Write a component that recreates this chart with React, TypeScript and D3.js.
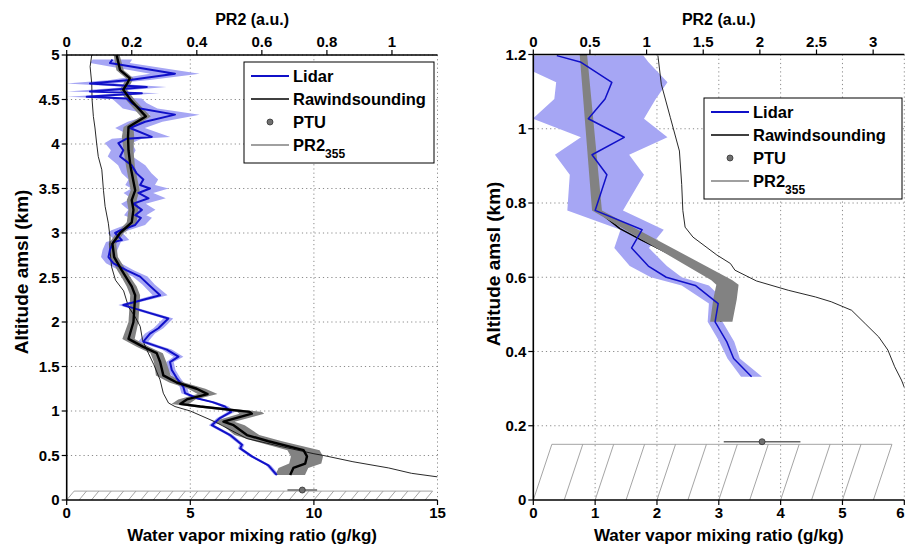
import React from 'react';
import * as d3 from 'd3';

const W = 905;
const H = 546;

// ---------------- LEFT PANEL DATA ----------------
const lidarAltL = [4.95, 4.91, 4.79, 4.72, 4.68, 4.64, 4.59, 4.57, 4.53, 4.51, 4.46, 4.40, 4.33, 4.25, 4.18, 4.08, 4.06, 4.01, 3.93, 3.86, 3.76, 3.67, 3.60, 3.54, 3.50, 3.45, 3.39, 3.33, 3.26, 3.20, 3.17, 3.09, 3.03, 3.00, 2.92, 2.90, 2.81, 2.73, 2.66, 2.58, 2.51, 2.42, 2.30, 2.25, 2.19, 2.15, 2.10, 2.04, 1.93, 1.87, 1.78, 1.74, 1.69, 1.61, 1.55, 1.46, 1.37, 1.27, 1.20, 1.14, 1.10, 1.05, 0.99, 0.92, 0.84, 0.73, 0.62, 0.58, 0.49, 0.39, 0.28];
const lidarValL = [1.85, 1.75, 4.38, 2.56, 0.94, 3.24, 0.94, 3.04, 0.81, 2.43, 2.63, 2.97, 4.38, 3.17, 2.56, 3.44, 2.43, 2.09, 2.29, 2.16, 2.63, 2.83, 3.10, 2.97, 3.37, 2.90, 3.31, 2.70, 3.04, 2.77, 3.00, 2.77, 2.16, 1.96, 2.23, 1.89, 1.75, 1.69, 1.89, 2.43, 2.97, 3.31, 3.78, 3.10, 2.29, 2.77, 3.37, 4.11, 3.71, 3.37, 3.10, 3.51, 4.05, 4.52, 4.18, 4.25, 4.45, 4.72, 4.79, 5.30, 5.90, 6.40, 6.65, 6.20, 5.87, 6.61, 7.09, 7.02, 7.49, 8.16, 8.50];
const lidarErrL = [0.8, 0.8, 1.0, 0.8, 0.95, 0.8, 0.9, 0.7, 0.8, 0.6, 0.6, 0.7, 1.0, 0.7, 0.6, 0.75, 0.6, 0.55, 0.5, 0.5, 0.55, 0.6, 0.6, 0.6, 0.75, 0.6, 0.7, 0.5, 0.55, 0.45, 0.45, 0.4, 0.35, 0.3, 0.3, 0.3, 0.3, 0.3, 0.3, 0.3, 0.3, 0.25, 0.3, 0.25, 0.2, 0.2, 0.2, 0.2, 0.2, 0.2, 0.2, 0.2, 0.2, 0.2, 0.15, 0.15, 0.15, 0.15, 0.15, 0.15, 0.15, 0.15, 0.15, 0.12, 0.12, 0.12, 0.1, 0.1, 0.1, 0.1, 0.1];

const rawAltL = [5.00, 4.83, 4.74, 4.68, 4.61, 4.49, 4.31, 4.19, 4.08, 3.93, 3.75, 3.48, 3.37, 3.26, 3.12, 3.00, 2.88, 2.73, 2.58, 2.49, 2.40, 2.30, 2.00, 1.81, 1.72, 1.65, 1.55, 1.40, 1.32, 1.25, 1.19, 1.13, 1.08, 1.05, 0.99, 0.97, 0.88, 0.84, 0.73, 0.66, 0.56, 0.49, 0.41, 0.36, 0.28];
const rawValL = [2.02, 2.16, 2.55, 2.45, 2.29, 2.60, 3.20, 2.50, 2.48, 2.50, 2.58, 2.77, 2.63, 2.70, 2.63, 2.16, 1.85, 1.92, 2.23, 2.43, 2.63, 2.77, 2.70, 2.50, 3.10, 3.64, 3.78, 3.91, 4.45, 5.26, 5.70, 4.86, 4.59, 5.40, 7.40, 7.49, 6.34, 6.75, 7.29, 8.16, 9.58, 9.72, 9.65, 9.17, 9.04];
const rawErrL = [0.12, 0.15, 0.15, 0.15, 0.15, 0.18, 0.2, 0.2, 0.25, 0.2, 0.18, 0.18, 0.2, 0.2, 0.2, 0.15, 0.15, 0.15, 0.18, 0.18, 0.2, 0.2, 0.2, 0.25, 0.25, 0.25, 0.25, 0.3, 0.3, 0.35, 0.4, 0.35, 0.35, 0.4, 0.5, 0.5, 0.45, 0.45, 0.5, 0.55, 0.65, 0.65, 0.65, 0.6, 0.6];

const pr2AltL = [5.00, 4.87, 4.68, 4.50, 4.31, 4.18, 4.01, 3.86, 3.71, 3.48, 3.30, 3.11, 2.96, 2.81, 2.62, 2.47, 2.35, 2.17, 2.06, 1.95, 1.80, 1.65, 1.52, 1.35, 1.20, 1.09, 1.05, 1.00, 0.88, 0.69, 0.60, 0.52, 0.50, 0.43, 0.36, 0.30, 0.26];
const pr2ValL = [0.077, 0.072, 0.077, 0.078, 0.082, 0.087, 0.092, 0.097, 0.108, 0.113, 0.118, 0.128, 0.133, 0.133, 0.138, 0.150, 0.175, 0.190, 0.210, 0.226, 0.233, 0.251, 0.268, 0.287, 0.297, 0.313, 0.333, 0.380, 0.455, 0.554, 0.660, 0.760, 0.790, 0.880, 0.990, 1.060, 1.140];

const ptuL = { val: 9.53, alt: 0.112, err: 0.6 };

const xTicksL = [0, 5, 10, 15];
const yTicksL = [0, 0.5, 1, 1.5, 2, 2.5, 3, 3.5, 4, 4.5, 5];
const pTicksL = [0, 0.2, 0.4, 0.6, 0.8, 1];

// ---------------- RIGHT PANEL DATA ----------------
const lidarAltR = [1.197, 1.18, 1.125, 1.08, 1.027, 0.977, 0.93, 0.876, 0.78, 0.728, 0.679, 0.63, 0.60, 0.578, 0.529, 0.48, 0.426, 0.381, 0.332];
const lidarValR = [0.38, 0.76, 1.27, 1.16, 0.89, 1.47, 0.95, 1.19, 1.00, 1.76, 1.59, 1.86, 2.15, 2.62, 2.99, 2.94, 3.13, 3.24, 3.53];
const lidarErrR = [1.4, 1.1, 0.9, 0.82, 0.9, 0.7, 0.6, 0.6, 0.45, 0.35, 0.28, 0.3, 0.25, 0.22, 0.15, 0.12, 0.12, 0.1, 0.17];

const rawAltR = [1.2, 0.78, 0.731, 0.70, 0.592, 0.58, 0.48];
const rawValR = [0.81, 1.03, 1.40, 1.75, 3.05, 3.16, 3.03];
const bandAltR = [1.2, 0.78, 0.592, 0.58, 0.54, 0.48];
const bandValR = [0.81, 1.03, 3.05, 3.14, 3.10, 3.04];
const bandErrR = [0.06, 0.08, 0.17, 0.18, 0.19, 0.18];

const pr2AltR = [1.197, 1.12, 1.03, 0.94, 0.85, 0.78, 0.735, 0.708, 0.66, 0.637, 0.619, 0.59, 0.565, 0.547, 0.534, 0.511, 0.475, 0.439, 0.404, 0.359, 0.323, 0.30];
const pr2ValR = [1.10, 1.13, 1.21, 1.29, 1.31, 1.32, 1.34, 1.41, 1.62, 1.74, 1.78, 1.97, 2.25, 2.49, 2.63, 2.81, 2.93, 3.05, 3.13, 3.19, 3.25, 3.28];

const ptuR = { val: 3.70, alt: 0.157, err: 0.62 };

const xTicksR = [0, 1, 2, 3, 4, 5, 6];
const yTicksR = [0, 0.2, 0.4, 0.6, 0.8, 1, 1.2];
const pTicksR = [0, 0.5, 1, 1.5, 2, 2.5, 3];

const legendLabels = ['Lidar', 'Rawindsounding', 'PTU', 'PR2'];

const FONT = '"Liberation Sans", Arial, Helvetica, sans-serif';
const BLUE = '#1010c8';
const BLUE_BAND = '#a6a6f4';
const GRAY_BAND = '#828282';

type Pt = { a: number; v: number; e?: number };
const zip = (alt: number[], val: number[], err?: number[]): Pt[] =>
  alt.map((a, i) => ({ a, v: val[i], e: err ? err[i] : 0 }));

type PanelProps = {
  id: string;
  xDomain: [number, number];
  yDomain: [number, number];
  pDomain: [number, number];
  xRange: [number, number];
  yRange: [number, number];
  xTicks: number[];
  yTicks: number[];
  pTicks: number[];
  lidar: Pt[];
  raw: Pt[];
  band: Pt[];
  pr2: Pt[];
  ptu: { val: number; alt: number; err: number };
  ground: number;
  hatchSlant: number;
  lidarWidth: number;
  rawWidth: number;
  grayOnTop: boolean;
  legend: { x: number; y: number; w: number; h: number };
  yTitleX: number;
  yTitleY: number;
};

function Panel(p: PanelProps) {
  const x = d3.scaleLinear().domain(p.xDomain).range(p.xRange);
  const y = d3.scaleLinear().domain(p.yDomain).range(p.yRange);
  const px = d3.scaleLinear().domain(p.pDomain).range(p.xRange);
  const [x0, x1] = p.xRange;
  const [yb, yt] = p.yRange;
  const clipId = 'clip-' + p.id;

  const line = d3.line<Pt>().x(d => x(d.v)).y(d => y(d.a));
  const pline = d3.line<Pt>().x(d => px(d.v)).y(d => y(d.a));
  const area = d3.area<Pt>().y(d => y(d.a)).x0(d => x(d.v - (d.e || 0))).x1(d => x(d.v + (d.e || 0)));

  const hatchStarts = d3.range(p.xDomain[0], p.xDomain[1], 0.5);
  const hatchTopEnd = hatchStarts[hatchStarts.length - 1] + p.hatchSlant;

  const fmt = (v: number) => String(v);

  const grayBand = <path d={area(p.band) || ''} fill={GRAY_BAND} stroke="none" />;
  const rawLine = <path d={line(p.raw) || ''} fill="none" stroke="#000" strokeWidth={p.rawWidth} strokeLinejoin="round" />;

  const L = p.legend;
  const rowY = [L.y + 14, L.y + 37, L.y + 60, L.y + 83];
  const lx0 = L.x + 7;
  const lx1 = L.x + 45;
  const tx = L.x + 49;

  return (
    <g>
      <defs>
        <clipPath id={clipId}>
          <rect x={x0} y={yt} width={x1 - x0} height={yb - yt} />
        </clipPath>
      </defs>
      {/* grid */}
      <g stroke="#8a8a8a" strokeWidth={1} strokeDasharray="1.2,3">
        {p.yTicks.filter(t => t !== p.yDomain[0]).map(t => (
          <line key={'gy' + t} x1={x0} x2={x1} y1={y(t)} y2={y(t)} />
        ))}
        {p.xTicks.filter(t => t !== p.xDomain[0]).map(t => (
          <line key={'gx' + t} x1={x(t)} x2={x(t)} y1={yt} y2={yb} />
        ))}
      </g>
      <g clipPath={`url(#${clipId})`}>
        {/* hatched ground */}
        <g stroke="#9a9a9a" strokeWidth={0.9} fill="none">
          <line x1={x(p.hatchSlant)} x2={x(hatchTopEnd)} y1={y(p.ground)} y2={y(p.ground)} />
          {hatchStarts.map(h => (
            <line key={'h' + h} x1={x(h)} y1={y(0)} x2={x(h + p.hatchSlant)} y2={y(p.ground)} />
          ))}
        </g>
        <path d={area(p.lidar) || ''} fill={BLUE_BAND} stroke="none" />
        {p.grayOnTop ? rawLine : grayBand}
        {p.grayOnTop ? grayBand : null}
        <path d={pline(p.pr2) || ''} fill="none" stroke="#111" strokeWidth={0.9} />
        <path d={line(p.lidar) || ''} fill="none" stroke={BLUE} strokeWidth={p.lidarWidth} strokeLinejoin="round" />
        {p.grayOnTop ? null : rawLine}
        {/* PTU */}
        <line x1={x(p.ptu.val - p.ptu.err)} x2={x(p.ptu.val + p.ptu.err)} y1={y(p.ptu.alt)} y2={y(p.ptu.alt)} stroke="#666" strokeWidth={1.5} />
        <circle cx={x(p.ptu.val)} cy={y(p.ptu.alt)} r={3} fill="#707070" stroke="#333" strokeWidth={0.8} />
      </g>
      {/* axes lines */}
      <g stroke="#000" strokeWidth={1.6} fill="none">
        <line x1={x0} x2={x0} y1={yt} y2={yb} />
        <line x1={x0} x2={x1} y1={yb} y2={yb} />
        <line x1={x0} x2={x1} y1={yt} y2={yt} />
      </g>
      {/* ticks */}
      <g stroke="#000" strokeWidth={1.2}>
        {p.yTicks.map(t => <line key={'ty' + t} x1={x0 - 5} x2={x0} y1={y(t)} y2={y(t)} />)}
        {p.xTicks.map(t => <line key={'tx' + t} x1={x(t)} x2={x(t)} y1={yb} y2={yb + 5} />)}
        {p.pTicks.map(t => <line key={'tp' + t} x1={px(t)} x2={px(t)} y1={yt} y2={yt - 5} />)}
      </g>
      <g fontFamily={FONT} fontWeight="bold" fontSize={15} fill="#000">
        {p.yTicks.map(t => (
          <text key={'ly' + t} x={x0 - 7} y={y(t)} dy="0.36em" textAnchor="end">{fmt(t)}</text>
        ))}
        {p.xTicks.map(t => {
          const cx = x(t);
          const edge = cx + 5 > W;
          return (
            <text key={'lx' + t} x={edge ? W - 0.5 : cx} y={yb + 18} textAnchor={edge ? 'end' : 'middle'}>{fmt(t)}</text>
          );
        })}
        {p.pTicks.map(t => (
          <text key={'lp' + t} x={px(t)} y={yt - 8} textAnchor="middle">{fmt(t)}</text>
        ))}
      </g>
      <g fontFamily={FONT} fontWeight="bold" fill="#000">
        <text x={(x0 + x1) / 2} y={25} textAnchor="middle" fontSize={16}>PR2 (a.u.)</text>
        <text x={(x0 + x1) / 2} y={541} textAnchor="middle" fontSize={17}>Water vapor mixing ratio (g/kg)</text>
        <text transform={`translate(${p.yTitleX},${p.yTitleY}) rotate(-90)`} textAnchor="middle" fontSize={19}>Altitude amsl (km)</text>
      </g>
      {/* legend */}
      <g>
        <rect x={L.x} y={L.y} width={L.w} height={L.h} fill="#fff" stroke="#000" strokeWidth={1} />
        <line x1={lx0} x2={lx1} y1={rowY[0]} y2={rowY[0]} stroke={BLUE} strokeWidth={2} />
        <line x1={lx0} x2={lx1} y1={rowY[1]} y2={rowY[1]} stroke="#000" strokeWidth={1.5} />
        <circle cx={(lx0 + lx1) / 2} cy={rowY[2]} r={3} fill="#707070" stroke="#333" strokeWidth={0.8} />
        <line x1={lx0} x2={lx1} y1={rowY[3]} y2={rowY[3]} stroke="#808080" strokeWidth={1.5} />
        <g fontFamily={FONT} fontWeight="bold" fontSize={16.5} fill="#000">
          {legendLabels.map((lab, i) => (
            <text key={lab} x={tx} y={rowY[i]} dy="0.36em">
              {lab}
              {i === 3 ? <tspan fontSize={12} dy="7">355</tspan> : null}
            </text>
          ))}
        </g>
      </g>
    </g>
  );
}

export default function App() {
  return (
    <svg
      width={W}
      height={H}
      viewBox={`0 0 ${W} ${H}`}
      style={{ position: 'absolute', left: 0, top: 0, background: '#fff' }}
    >
      <rect x={0} y={0} width={W} height={H} fill="#fff" />
      <Panel
        id="L"
        xDomain={[0, 15]}
        yDomain={[0, 5]}
        pDomain={[0, 1.14]}
        xRange={[66.7, 437.5]}
        yRange={[500, 55]}
        xTicks={xTicksL}
        yTicks={yTicksL}
        pTicks={pTicksL}
        lidar={zip(lidarAltL, lidarValL, lidarErrL)}
        raw={zip(rawAltL, rawValL)}
        band={zip(rawAltL, rawValL, rawErrL)}
        pr2={zip(pr2AltL, pr2ValL)}
        ptu={ptuL}
        ground={0.1}
        hatchSlant={0.3}
        lidarWidth={2}
        rawWidth={2.4}
        grayOnTop={false}
        legend={{ x: 244, y: 62, w: 190, h: 101 }}
        yTitleX={28}
        yTitleY={272}
      />
      <Panel
        id="R"
        xDomain={[0, 6]}
        yDomain={[0, 1.2]}
        pDomain={[0, 3.275]}
        xRange={[533.3, 904.3]}
        yRange={[500, 54.5]}
        xTicks={xTicksR}
        yTicks={yTicksR}
        pTicks={pTicksR}
        lidar={zip(lidarAltR, lidarValR, lidarErrR)}
        raw={zip(rawAltR, rawValR)}
        band={zip(bandAltR, bandValR, bandErrR)}
        pr2={zip(pr2AltR, pr2ValR)}
        ptu={ptuR}
        ground={0.15}
        hatchSlant={0.3}
        lidarWidth={1.5}
        rawWidth={1.5}
        grayOnTop={true}
        legend={{ x: 704, y: 98, w: 198, h: 101 }}
        yTitleX={500}
        yTitleY={264}
      />
    </svg>
  );
}
